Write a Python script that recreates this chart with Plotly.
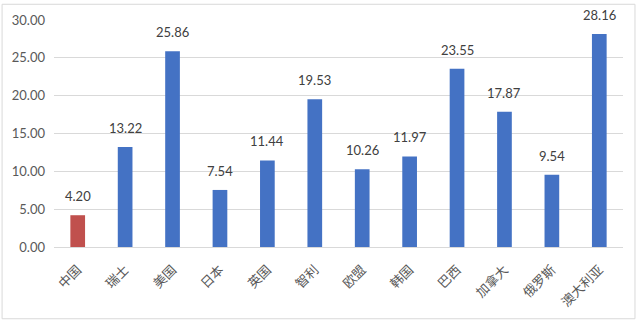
import plotly.graph_objects as go

categories = ["中国", "瑞士", "美国", "日本", "英国", "智利", "欧盟", "韩国", "巴西", "加拿大", "俄罗斯", "澳大利亚"]
values = [4.20, 13.22, 25.86, 7.54, 11.44, 19.53, 10.26, 11.97, 23.55, 17.87, 9.54, 28.16]
bar_colors = ["#C0504D"] + ["#4472C4"] * 11
y_ticks = [0, 5, 10, 15, 20, 25, 30]

fig = go.Figure()
fig.add_trace(go.Bar(
    x=categories, y=values,
    marker=dict(color=bar_colors, line=dict(width=0)),
    cliponaxis=False,
))

for c, v in zip(categories, values):
    fig.add_annotation(
        x=c, y=v, text=f"{v:.2f}", showarrow=False,
        yanchor="bottom", yshift=9,
        font=dict(family="Lato, Noto Sans", size=13, color="#404040"),
    )

fig.update_layout(
    width=640, height=322,
    margin=dict(l=53, r=17, t=17, b=74),
    paper_bgcolor="white", plot_bgcolor="white",
    bargap=0.69,
    showlegend=False,
    xaxis=dict(
        tickangle=-45,
        tickfont=dict(family="Noto Sans CJK SC", size=13, color="#595959"),
        showline=True, linecolor="#D9D9D9", linewidth=1,
        ticks="",
        ticklabelstandoff=9,
    ),
    yaxis=dict(
        range=[0, 30],
        tickvals=y_ticks,
        ticktext=[f"{t:.2f}" for t in y_ticks],
        tickfont=dict(family="Lato, Noto Sans", size=13, color="#595959"),
        gridcolor="#D9D9D9", gridwidth=1,
        zeroline=False,
        ticks="",
        ticklabelstandoff=8,
    ),
    shapes=[dict(
        type="rect", xref="paper", yref="paper",
        x0=-52/570, x1=1 + 12/570, y0=-73/231, y1=1 + 16/231,
        line=dict(color="#D9D9D9", width=1), fillcolor="rgba(0,0,0,0)",
        layer="below",
    )],
)

fig.write_html("out.html")
